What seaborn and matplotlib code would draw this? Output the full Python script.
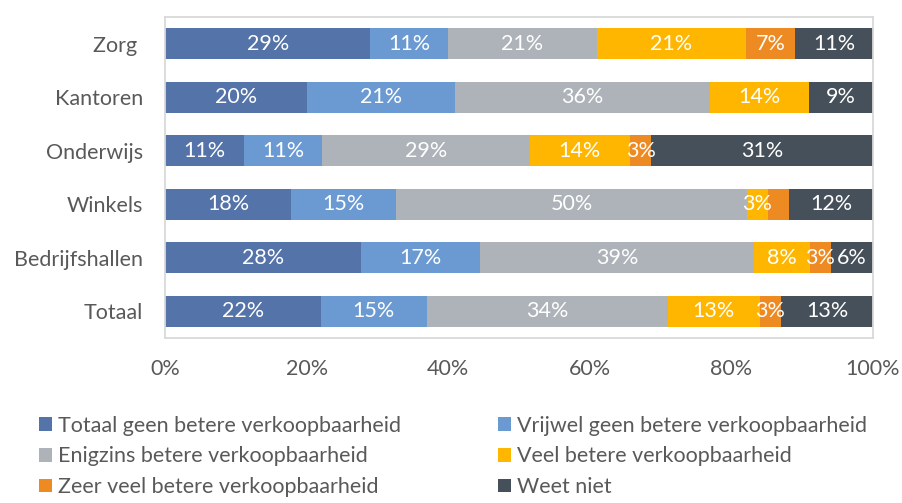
import matplotlib
matplotlib.use('Agg')
import matplotlib.pyplot as plt
import seaborn as sns
import pandas as pd
from matplotlib.patches import Patch

# Data (percent per sector)
categories = ['Zorg ', 'Kantoren', 'Onderwijs', 'Winkels', 'Bedrijfshallen', 'Totaal']
series_names = [
    'Totaal geen betere verkoopbaarheid',
    'Vrijwel geen betere verkoopbaarheid',
    'Enigzins betere verkoopbaarheid',
    'Veel betere verkoopbaarheid',
    'Zeer veel betere verkoopbaarheid',
    'Weet niet',
]
totaal_geen = [29, 20, 11, 18, 28, 22]
vrijwel_geen = [11, 21, 11, 15, 17, 15]
enigzins = [21, 36, 29, 50, 39, 34]
veel = [21, 14, 14, 3, 8, 13]
zeer_veel = [7, 0, 3, 3, 3, 3]
weet_niet = [11, 9, 31, 12, 6, 13]
# the label of this segment is not shown in the original
hidden_labels = [('Winkels', 'Zeer veel betere verkoopbaarheid')]
x_ticks = [0, 20, 40, 60, 80, 100]

colors = ['#5373A9', '#6B9AD2', '#ADB3B9', '#FFB600', '#EE8A22', '#46505A']
text_color = '#595959'
frame_color = '#D9D9D9'

sns.set_theme(style='white')
plt.rcParams['font.family'] = ['Lato', 'DejaVu Sans']

df = pd.DataFrame(
    dict(zip(series_names, [totaal_geen, vrijwel_geen, enigzins, veel, zeer_veel, weet_niet])),
    index=categories,
)
# 100% stacked: scale each row to 100
shares = df.div(df.sum(axis=1), axis=0) * 100
cum = shares.cumsum(axis=1)

fig = plt.figure(figsize=(9.02, 5.03), dpi=100)
ax = fig.add_axes([165 / 902, 1 - 338 / 503, (873 - 165) / 902, (338 - 17) / 503])

# draw cumulative bars from the longest to the shortest so they stack
for i in reversed(range(len(series_names))):
    sns.barplot(x=cum.iloc[:, i].values, y=categories, order=categories,
                orient='h', color=colors[i], saturation=1, width=0.58,
                linewidth=0, ax=ax)

# data labels in the middle of each segment
for r, cat in enumerate(categories):
    for i, name in enumerate(series_names):
        val = df.loc[cat, name]
        if val == 0 or (cat.strip(), name) in hidden_labels:
            continue
        center = cum.loc[cat, name] - shares.loc[cat, name] / 2
        ax.text(center, r, f'{val}%', ha='center', va='center',
                color='white', fontsize=15.5)

ax.set_xlim(0, 100)
ax.set_xticks(x_ticks)
ax.set_xticklabels([f'{t}%' for t in x_ticks])
ax.set_xlabel('')
ax.set_ylabel('')
ax.tick_params(axis='both', length=0, labelsize=15.5, colors=text_color)
ax.tick_params(axis='x', pad=15)
ax.tick_params(axis='y', pad=16)
for spine in ax.spines.values():
    spine.set_visible(True)
    spine.set_color(frame_color)
    spine.set_linewidth(1.3)

# legend laid out row by row like the original
handles = [Patch(facecolor=c, edgecolor='none') for c in colors]
order = [0, 2, 4, 1, 3, 5]
fig.legend([handles[k] for k in order], [series_names[k] for k in order],
           loc='upper left', bbox_to_anchor=(30 / 902, 1 - 407 / 503),
           ncol=2, frameon=False, fontsize=15.5, labelcolor=text_color,
           handlelength=0.6, handleheight=0.6, handletextpad=0.3,
           columnspacing=4.5, labelspacing=0.5, borderaxespad=0)

plt.savefig('out.png', dpi=100)
plt.close()
